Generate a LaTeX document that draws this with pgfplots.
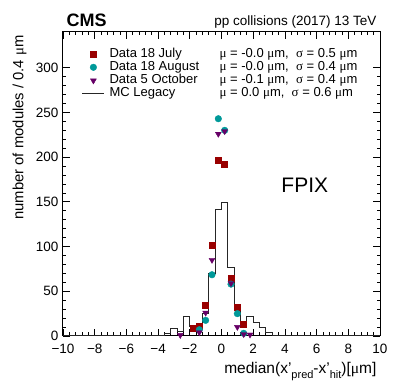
\documentclass[border=0pt]{standalone}
\usepackage{fontspec}
\setmainfont{Liberation Sans}
\newfontfamily\symf{Liberation Serif}
\usepackage{pgfplots}
\pgfplotsset{compat=1.18}
\definecolor{cjul}{HTML}{990000}
\definecolor{caug}{HTML}{009999}
\definecolor{coct}{HTML}{660066}
\newcommand{\mug}{{\symf μ}}
\newcommand{\sg}{{\symf σ}}
\pgfplotsset{
  histleg/.style={legend image code/.code={\draw[##1] (0pt,0pt) -- (22pt,0pt);}},
  markleg/.style={legend image code/.code={\path (0pt,0pt) (22pt,0pt);\draw[##1] plot coordinates {(11pt,0pt)};}},
  hist/.style={const plot mark left, black!85, line width=1pt},
  jul/.style={only marks, mark=square*, mark size=3pt, color=cjul},
  aug/.style={only marks, mark=*, mark size=3.3pt, color=caug},
  oct/.style={only marks, mark=triangle*, mark size=3.4pt, mark options={rotate=180}, color=coct},
}

\begin{document}
\begin{tikzpicture}
\begin{axis}[
    name=ax,
    scale only axis,
    width=317pt, height=304pt,
    xmin=-10, xmax=10, ymin=0, ymax=340,
    xtick={-10,-8,...,10},
    xticklabels={−10,−8,−6,−4,−2,0,2,4,6,8,10},
    ytick={0,50,...,300},
    minor x tick num=4, minor y tick num=4,
    tick align=inside,
    major tick length=7pt, minor tick length=3.5pt,
    axis line style={line width=1pt},
    every tick/.style={black, line width=0.8pt},
    tick label style={font=\fontsize{13.5}{15}\selectfont, inner sep=1pt},
    xticklabel style={yshift=-7pt},
    yticklabel style={xshift=-3.5pt},
    /pgf/number format/assume math mode=true,
    xlabel={median(x'\raisebox{-0.6ex}{\fontsize{11}{12}\selectfont pred}-x'\raisebox{-0.6ex}{\fontsize{11}{12}\selectfont hit})[\mug m]},
    xlabel style={font=\fontsize{15.5}{17}\selectfont, at={(rel axis cs:1,0)}, anchor=base east, yshift=-38pt},
    ylabel={number of modules / 0.4 \mug m},
    ylabel style={font=\fontsize{14.8}{17}\selectfont, at={(rel axis cs:-0.125,1)}, anchor=base east},
    clip=false,
    legend style={at={(rel axis cs:0.059,0.948)}, anchor=north west, draw=none, fill=none,
        inner sep=0pt, column sep=4.7pt, row sep=1.3pt,
        font=\fontsize{13}{15}\selectfont,
        nodes={inner sep=0pt, text height=9pt, text depth=3pt}},
    legend cell align=left,
]
\addlegendimage{jul, markleg}
\addlegendentry{\makebox[110pt][l]{Data 18 July}\mug{} = -0.0 \mug m,\ \ \sg{} = 0.5 \mug m}
\addlegendimage{aug, markleg}
\addlegendentry{\makebox[110pt][l]{Data 18 August}\mug{} = -0.0 \mug m,\ \ \sg{} = 0.4 \mug m}
\addlegendimage{oct, markleg}
\addlegendentry{\makebox[110pt][l]{Data 5 October}\mug{} = -0.1 \mug m,\ \ \sg{} = 0.4 \mug m}
\addlegendimage{hist, histleg}
\addlegendentry{\makebox[110pt][l]{MC Legacy}\mug{} = 0.0 \mug m,\ \ \sg{} = 0.6 \mug m}
\addplot[hist, forget plot] coordinates {
    (-10,0) (-4.0,1) (-3.6,3) (-3.2,8) (-2.8,5) (-2.4,22) (-2.0,11) (-1.6,13)
    (-1.2,25) (-0.8,70) (-0.4,142) (0.0,149) (0.4,77) (0.8,34) (1.2,14)
    (1.6,22) (2.0,15) (2.4,10) (2.8,4) (3.2,1) (3.6,0) (10,0)};
\addplot[jul, forget plot] coordinates {
    (-1.8,8.5) (-1.4,11) (-1.0,35) (-0.6,101) (-0.2,197) (0.2,192) (0.6,65) (1.0,32) (1.4,13)};
\addplot[aug, forget plot] coordinates {
    (-1.4,7) (-1.0,17.5) (-0.6,68.5) (-0.2,243) (0.2,230) (0.6,58) (1.0,25) (1.4,3)};
\addplot[oct, forget plot] coordinates {
    (-2.6,1) (-1.4,4) (-1.0,26) (-0.6,85) (-0.2,226) (0.2,229) (0.6,59) (1.0,10) (1.4,2) (1.8,1.5)};
\node[anchor=base west, font=\fontsize{21}{24}\selectfont] at (axis cs:3.56,160) {FPIX};
\node[anchor=base west, font=\bfseries\fontsize{18}{20}\selectfont] at ([yshift=5pt]rel axis cs:0,1) {CMS};
\node[anchor=base east, font=\fontsize{13.5}{15}\selectfont] at ([yshift=6pt]rel axis cs:1,1) {pp collisions (2017) 13 TeV};
\end{axis}
\pgfresetboundingbox
\path ([xshift=-63pt,yshift=-51pt]ax.south west) rectangle ([xshift=19pt,yshift=32pt]ax.north east);
\end{tikzpicture}
\end{document}
